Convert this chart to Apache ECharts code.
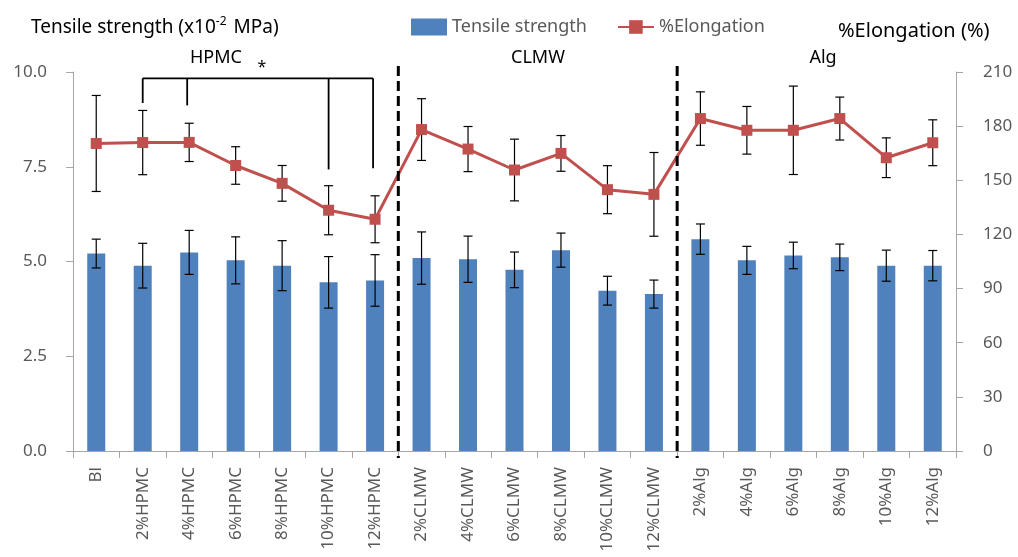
<!DOCTYPE html>
<html>
<head>
<meta charset="utf-8">
<script src="https://cdn.jsdelivr.net/npm/echarts@6/dist/echarts.min.js"></script>
<style>html,body{margin:0;padding:0;background:#fff}#c{width:1018px;height:557px}</style>
</head>
<body>
<div id="c"></div>
<script>
const categories = ['Bl','2%HPMC','4%HPMC','6%HPMC','8%HPMC','10%HPMC','12%HPMC',
  '2%CLMW','4%CLMW','6%CLMW','8%CLMW','10%CLMW','12%CLMW',
  '2%Alg','4%Alg','6%Alg','8%Alg','10%Alg','12%Alg'];
const tensile = [5.21,4.89,5.24,5.03,4.89,4.45,4.50,5.09,5.06,4.78,5.30,4.23,4.14,5.59,5.03,5.16,5.11,4.89,4.89];
const tensileErr = [0.38,0.59,0.58,0.62,0.66,0.68,0.68,0.69,0.61,0.47,0.45,0.38,0.37,0.40,0.37,0.35,0.35,0.41,0.40];
const elongation = [170.4,170.9,171.0,158.2,148.3,133.4,128.4,178.1,167.3,155.7,164.9,144.8,142.2,184.2,177.7,177.7,184.2,162.5,170.8];
const elongationErr = [26.6,17.8,10.6,10.4,9.9,13.6,13.0,17.1,12.5,17.1,9.9,13.3,23.2,14.8,13.2,24.5,11.9,11.0,12.7];
const leftTicks = {min:0, max:10, interval:2.5};
const rightTicks = {min:0, max:210, interval:30};
// group separators: between these category indices
const separators = [[6,7],[12,13]];
// significance bracket (HPMC): category indices, bottom values (%Elongation), top value
const bracketCats = [1,2,5,6];
const bracketBottoms = [192.8,191.5,156.0,156.6];
const bracketTop = 206.5;
const groupLabels = ['HPMC','CLMW','Alg'];

const FONT = 'Noto Sans';
const chart = echarts.init(document.getElementById('c'), null, {renderer:'canvas'});

function errRender(params, api){
  const x = api.value(0), v = api.value(1), e = api.value(2);
  const t = api.coord([x, v + e]);
  const b = api.coord([x, v - e]);
  const hw = 4.5;
  const st = {stroke:'#000', lineWidth:1.2};
  return {type:'group', children:[
    {type:'line', shape:{x1:t[0],y1:t[1],x2:b[0],y2:b[1]}, style:st},
    {type:'line', shape:{x1:t[0]-hw,y1:t[1],x2:t[0]+hw,y2:t[1]}, style:st},
    {type:'line', shape:{x1:b[0]-hw,y1:b[1],x2:b[0]+hw,y2:b[1]}, style:st}
  ]};
}

function sepRender(params, api){
  const a = api.value(0), c = api.value(1);
  const p1 = api.coord([a, rightTicks.max]);
  const p2 = api.coord([c, rightTicks.max]);
  const p0 = api.coord([a, 0]);
  const x = (p1[0] + p2[0]) / 2;
  return {type:'line', shape:{x1:x, y1:p1[1]-6, x2:x, y2:p0[1]+7},
    style:{stroke:'#000', lineWidth:3, lineDash:[10,5]}};
}

function bracketRender(params, api){
  const st = {stroke:'#000', lineWidth:1.8};
  const children = [];
  const first = api.coord([bracketCats[0], bracketTop]);
  const last = api.coord([bracketCats[bracketCats.length-1], bracketTop]);
  children.push({type:'line', shape:{x1:first[0], y1:first[1], x2:last[0]-2, y2:last[1]}, style:st});
  bracketCats.forEach((ci, k) => {
    const t = api.coord([ci, bracketTop]);
    const b = api.coord([ci, bracketBottoms[k]]);
    const dx = (k === 0 || k === 2) ? 0 : -2;
    children.push({type:'line', shape:{x1:t[0]+dx, y1:t[1], x2:b[0]+dx, y2:b[1]}, style:st});
  });
  return {type:'group', children};
}

const axisLineStyle = {color:'#a6a6a6', width:1};
const option = {
  animation:false,
  textStyle:{fontFamily:FONT},
  grid:{left:73, right:62, top:72, bottom:106},
  legend:{
    data:[{name:'Tensile strength', icon:'rect'}, {name:'%Elongation'}],
    left:406, top:13, itemWidth:36, itemHeight:17, itemGap:30,
    textStyle:{fontFamily:FONT, fontSize:18, color:'#595959'}
  },
  xAxis:{
    type:'category', data:categories, boundaryGap:true,
    axisLine:{lineStyle:axisLineStyle},
    axisTick:{show:true, length:7, lineStyle:axisLineStyle, alignWithLabel:false},
    axisLabel:{rotate:90, margin:16, fontFamily:FONT, fontSize:17, color:'#595959', interval:0}
  },
  yAxis:[
    {type:'value', min:leftTicks.min, max:leftTicks.max, interval:leftTicks.interval,
     splitLine:{show:false},
     axisLine:{show:true, lineStyle:axisLineStyle},
     axisTick:{show:true, length:7, lineStyle:axisLineStyle},
     axisLabel:{margin:26, fontFamily:FONT, fontSize:17, color:'#595959', formatter:v=>v.toFixed(1)}},
    {type:'value', min:rightTicks.min, max:rightTicks.max, interval:rightTicks.interval,
     position:'right', splitLine:{show:false},
     axisLine:{show:true, lineStyle:axisLineStyle},
     axisTick:{show:true, length:7, lineStyle:axisLineStyle},
     axisLabel:{margin:27, fontFamily:FONT, fontSize:17, color:'#595959'}}
  ],
  series:[
    {name:'Tensile strength', type:'bar', data:tensile, barWidth:18, yAxisIndex:0, z:2,
     itemStyle:{color:'#4f81bd'}},
    {name:'tsErr', type:'custom', yAxisIndex:0, z:3, renderItem:errRender, clip:false,
     encode:{x:0, y:1}, data:tensile.map((v,i)=>[i, v, tensileErr[i]]), silent:true},
    {name:'elErr', type:'custom', yAxisIndex:1, z:3, renderItem:errRender, clip:false,
     encode:{x:0, y:1}, data:elongation.map((v,i)=>[i, v, elongationErr[i]]), silent:true},
    {name:'%Elongation', type:'line', data:elongation, yAxisIndex:1, z:5,
     symbol:'rect', symbolSize:11,
     lineStyle:{color:'#c0504d', width:3},
     itemStyle:{color:'#c0504d'}},
    {name:'sep', type:'custom', yAxisIndex:1, z:6, renderItem:sepRender, clip:false,
     encode:{x:0, y:1}, data:separators, silent:true},
    {name:'bracket', type:'custom', yAxisIndex:1, z:6, renderItem:bracketRender, clip:false,
     encode:{x:0, y:1}, data:[[bracketCats[0], bracketTop]], silent:true}
  ],
  graphic:[
    {type:'text', left:31, top:16, style:{
      text:'{a|Tensile strength (x10}{s|-2}{a| MPa)}',
      rich:{a:{fontFamily:FONT, fontSize:19, fill:'#000', lineHeight:24},
            s:{fontFamily:FONT, fontSize:12, fill:'#000', verticalAlign:'top', lineHeight:24, padding:[0,2,10,0]}}
    }},
    {type:'text', left:838, top:21, style:{text:'%Elongation (%)', font:'20px "Noto Sans"', fill:'#000'}},
    {type:'text', x:216, y:58, style:{text:groupLabels[0], font:'18px "Noto Sans"', fill:'#000', align:'center', verticalAlign:'middle'}},
    {type:'text', x:262, y:67, style:{text:'*', font:'16px "Noto Sans"', fill:'#000', align:'center', verticalAlign:'middle'}},
    {type:'text', x:538, y:58, style:{text:groupLabels[1], font:'18px "Noto Sans"', fill:'#000', align:'center', verticalAlign:'middle'}},
    {type:'text', x:823, y:58, style:{text:groupLabels[2], font:'18px "Noto Sans"', fill:'#000', align:'center', verticalAlign:'middle'}}
  ]
};
chart.setOption(option);
</script>
</body>
</html>
